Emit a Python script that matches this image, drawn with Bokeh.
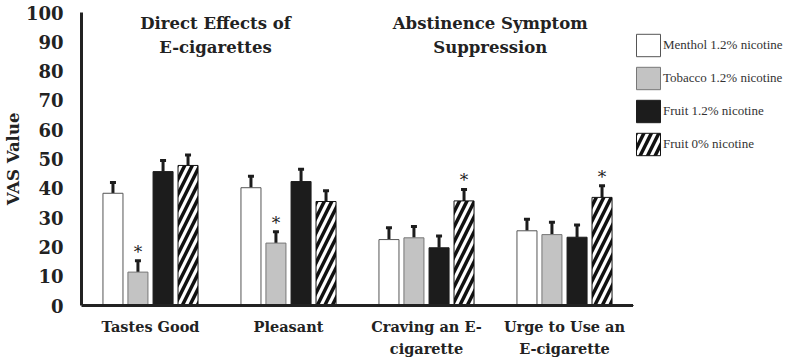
from bokeh.plotting import figure
from bokeh.layouts import row
from bokeh.models import (FactorRange, Range1d, Whisker, TeeHead, Legend, LegendItem,
                          Label, ColumnDataSource, FixedTicker, CategoricalAxis,
                          CustomJSTickFormatter)
from bokeh.transform import dodge
from bokeh.core.properties import value
from bokeh.embed import file_html
from bokeh.resources import INLINE

# ---- data -------------------------------------------------------------
categories = ["Tastes Good", "Pleasant", "Craving an E-cigarette", "Urge to Use an E-cigarette"]
label_line1 = ["Tastes Good", "Pleasant", "Craving an E-", "Urge to Use an"]
label_line2 = ["", "", "cigarette", "E-cigarette"]
series_names = ["Menthol 1.2% nicotine", "Tobacco 1.2% nicotine",
                "Fruit 1.2% nicotine", "Fruit 0% nicotine"]

menthol = [38.3, 40.2, 22.5, 25.5]
tobacco = [11.4, 21.3, 23.1, 24.2]
fruit = [45.7, 42.3, 19.7, 23.3]
fruit0 = [47.8, 35.5, 35.7, 36.9]

menthol_err = [3.7, 3.9, 4.0, 3.9]
tobacco_err = [3.9, 3.9, 3.9, 4.2]
fruit_err = [3.8, 4.2, 4.0, 4.2]
fruit0_err = [3.6, 3.7, 3.9, 4.0]

# significant difference markers
menthol_sig = [False, False, False, False]
tobacco_sig = [True, True, False, False]
fruit_sig = [False, False, False, False]
fruit0_sig = [False, False, True, True]

group_titles = [["Direct Effects of", "E-cigarettes"], ["Abstinence Symptom", "Suppression"]]
y_ticks = [0, 10, 20, 30, 40, 50, 60, 70, 80, 90, 100]

# ---- main chart -------------------------------------------------------
p = figure(width=633, height=361, x_range=FactorRange(*categories, range_padding=0),
           y_range=Range1d(0, 100), output_backend="svg", toolbar_location=None,
           min_border_left=81, min_border_right=0, min_border_top=12, min_border_bottom=56)
p.outline_line_color = None
p.xgrid.grid_line_color = None
p.ygrid.grid_line_color = None
p.background_fill_color = "white"

heavy = "DejaVu Serif"
ink = "#222222"


def style_axis(ax, size):
    ax.axis_line_width = 3
    ax.axis_line_color = ink
    ax.major_tick_line_color = None
    ax.minor_tick_line_color = None
    ax.major_tick_out = 0
    ax.major_tick_in = 0
    ax.major_label_text_font = heavy
    ax.major_label_text_font_style = "bold"
    ax.major_label_text_color = ink
    ax.major_label_text_font_size = size


def line_formatter(lines):
    return CustomJSTickFormatter(
        args=dict(keys=categories, names=lines),
        code="const i = keys.indexOf(tick); return i >= 0 ? names[i] : tick;")


style_axis(p.yaxis[0], "18px")
p.yaxis.ticker = FixedTicker(ticks=y_ticks)
p.yaxis.major_label_standoff = 18
p.yaxis.axis_label = "VAS Value"
p.yaxis.axis_label_text_font = heavy
p.yaxis.axis_label_text_font_style = "bold"
p.yaxis.axis_label_text_font_size = "16.5px"
p.yaxis.axis_label_text_color = ink
p.yaxis.axis_label_standoff = 0

# category names: first line on the main axis, second line on a bare axis below it
style_axis(p.xaxis[0], "14.5px")
p.xaxis[0].major_label_standoff = 12
p.xaxis[0].formatter = line_formatter(label_line1)

second = CategoricalAxis(formatter=line_formatter(label_line2))
style_axis(second, "14.5px")
second.axis_line_color = None
second.major_label_standoff = 2
p.add_layout(second, "below")

# ---- bars -------------------------------------------------------------
offsets = [-0.272, -0.091, 0.091, 0.272]
bar_w = 0.145
values = [menthol, tobacco, fruit, fruit0]
errors = [menthol_err, tobacco_err, fruit_err, fruit0_err]
sigs = [menthol_sig, tobacco_sig, fruit_sig, fruit0_sig]
styles = [
    dict(fill_color="white", line_color="#555555", line_width=1),
    dict(fill_color="#c3c3c3", line_color="#777777", line_width=1),
    dict(fill_color="#1c1c1c", line_color="#1c1c1c", line_width=1),
    dict(fill_color="white", line_color="#111111", line_width=1,
         hatch_pattern="/", hatch_color="#111111", hatch_scale=15, hatch_weight=3.5),
]

for vals, errs, sig, off, st in zip(values, errors, sigs, offsets, styles):
    src = ColumnDataSource(dict(cat=categories, top=vals,
                                upper=[v + e for v, e in zip(vals, errs)]))
    xs = dodge("cat", off, range=p.x_range)
    p.vbar(x=xs, top="top", bottom=0, width=bar_w, source=src, **st)

    p.add_layout(Whisker(base=xs, upper="upper", lower="top", source=src,
                         dimension="height", line_color="#1c1c1c", line_width=3,
                         lower_head=None,
                         upper_head=TeeHead(size=6, line_width=3, line_color="#1c1c1c")))

    star_src = ColumnDataSource(dict(
        cat=[c for c, s in zip(categories, sig) if s],
        y=[v + e for v, e, s in zip(vals, errs, sig) if s],
        t=["*" for s in sig if s]))
    p.text(x=dodge("cat", off, range=p.x_range), y="y", text="t", source=star_src,
           text_align="center", text_baseline="alphabetic", y_offset=-9,
           text_font=value("DejaVu Serif"), text_font_size="17px", text_color=ink)

# ---- group titles -----------------------------------------------------
for xc, lines in zip([0.971, 2.962], group_titles):
    for yv, line in zip([96.2, 87.9], lines):
        p.add_layout(Label(x=xc, y=yv, text=line, text_align="center",
                           text_baseline="alphabetic", text_font=heavy,
                           text_font_style="bold", text_font_size="16.5px",
                           text_color=ink))

# ---- legend panel -----------------------------------------------------
lg = figure(width=154, height=361, x_range=Range1d(0, 1), y_range=Range1d(0, 1),
            output_backend="svg", toolbar_location=None, min_border=0)
lg.axis.visible = False
lg.grid.visible = False
lg.outline_line_color = None

items = []
for name, st in zip(series_names, styles):
    # swatch-only renderer, kept outside the visible range
    swatch = lg.vbar(x=[-5], top=[-5], bottom=-6, width=0.1, **st)
    items.append(LegendItem(label=name, renderers=[swatch]))

legend = Legend(items=items, location=(0, 147), orientation="vertical",
                glyph_width=30, glyph_height=28, spacing=5, label_standoff=0,
                padding=0, margin=0, border_line_color=None, background_fill_alpha=0,
                label_text_font="Liberation Serif", label_text_font_size="13px",
                label_text_color="#333333")
lg.add_layout(legend, "center")

open("out.html", "w").write(file_html(row(p, lg), INLINE))
